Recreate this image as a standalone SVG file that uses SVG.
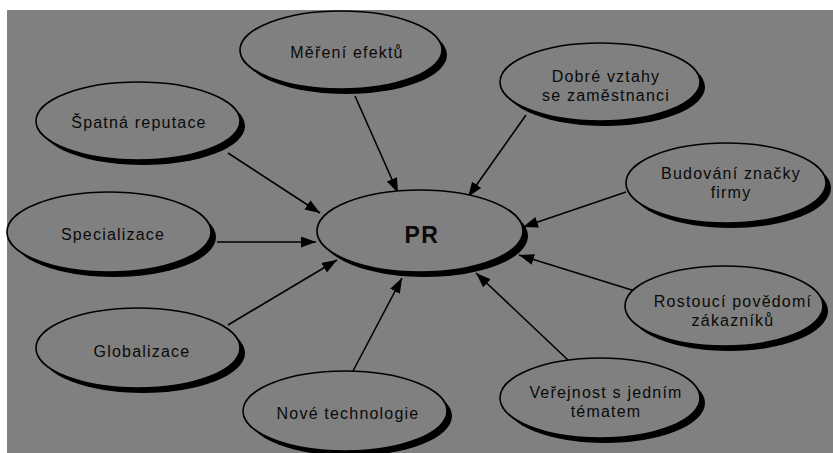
<svg xmlns="http://www.w3.org/2000/svg" width="833" height="453" viewBox="0 0 833 453">
<defs>
<marker id="ah" markerUnits="userSpaceOnUse" markerWidth="16" markerHeight="12" refX="15" refY="5.5" orient="auto">
<path d="M0,0 L15,5.5 L0,11 z" fill="#000"/>
</marker>
<style>
.sh{fill:#000}
.el{fill:#808080;stroke:#000;stroke-width:1.6}
.t{font-family:"Liberation Sans",Arial,sans-serif;font-size:16px;letter-spacing:1.2px;fill:#0a0a0a;text-anchor:middle}
.pr{font-family:"Liberation Sans",Arial,sans-serif;font-size:23px;font-weight:bold;letter-spacing:1.5px;fill:#0a0a0a;text-anchor:middle}
.cn line{stroke:#000;stroke-width:1.6;marker-end:url(#ah)}
</style>
</defs>
<rect x="0" y="0" width="833" height="453" fill="#fff"/>
<rect x="7" y="10" width="826" height="443" fill="#808080"/>

<g id="connectors" class="cn">
<line x1="355" y1="96" x2="398" y2="193"/>
<line x1="228" y1="153" x2="320" y2="213"/>
<line x1="217" y1="242" x2="316" y2="242"/>
<line x1="228" y1="325" x2="337" y2="260"/>
<line x1="353" y1="371" x2="402" y2="278"/>
<line x1="568" y1="360" x2="476" y2="273"/>
<line x1="635" y1="291" x2="519" y2="255"/>
<line x1="626" y1="192" x2="523" y2="227"/>
<line x1="526" y1="115" x2="468" y2="197"/>
</g>

<g id="node-pr">
<ellipse class="sh" cx="425" cy="236" rx="103" ry="41"/>
<ellipse class="el" cx="420" cy="231" rx="103" ry="41"/>
<text class="pr" x="422" y="243">PR</text>
</g>

<g id="node-mereni">
<ellipse class="sh" cx="346" cy="55" rx="101" ry="39"/>
<ellipse class="el" cx="341" cy="50" rx="101" ry="39"/>
<text class="t" x="347" y="58">Měření efektů</text>
</g>

<g id="node-spatna">
<ellipse class="sh" cx="143" cy="126" rx="102" ry="39"/>
<ellipse class="el" cx="138" cy="121" rx="102" ry="39"/>
<text class="t" x="139" y="128">Špatná reputace</text>
</g>

<g id="node-specializace">
<ellipse class="sh" cx="114" cy="237" rx="102" ry="40"/>
<ellipse class="el" cx="109" cy="232" rx="102" ry="40"/>
<text class="t" x="113" y="240">Specializace</text>
</g>

<g id="node-globalizace">
<ellipse class="sh" cx="143" cy="353" rx="102" ry="40"/>
<ellipse class="el" cx="138" cy="348" rx="102" ry="40"/>
<text class="t" x="142" y="357">Globalizace</text>
</g>

<g id="node-nove">
<ellipse class="sh" cx="350" cy="416" rx="102" ry="40"/>
<ellipse class="el" cx="345" cy="411" rx="102" ry="40"/>
<text class="t" x="348" y="419">Nové technologie</text>
</g>

<g id="node-verejnost">
<ellipse class="sh" cx="605" cy="403" rx="100" ry="40"/>
<ellipse class="el" cx="600" cy="398" rx="100" ry="40"/>
<text class="t" x="606" y="398">Veřejnost s jedním</text>
<text class="t" x="606" y="417">tématem</text>
</g>

<g id="node-rostouci">
<ellipse class="sh" cx="729" cy="311" rx="99" ry="40"/>
<ellipse class="el" cx="724" cy="306" rx="99" ry="40"/>
<text class="t" x="733" y="307">Rostoucí povědomí</text>
<text class="t" x="733" y="326">zákazníků</text>
</g>

<g id="node-budovani">
<ellipse class="sh" cx="731" cy="188" rx="100" ry="40"/>
<ellipse class="el" cx="726" cy="183" rx="100" ry="40"/>
<text class="t" x="731" y="179">Budování značky</text>
<text class="t" x="731" y="198">firmy</text>
</g>

<g id="node-dobre">
<ellipse class="sh" cx="605" cy="87" rx="100" ry="39"/>
<ellipse class="el" cx="600" cy="82" rx="100" ry="39"/>
<text class="t" x="606" y="82">Dobré vztahy</text>
<text class="t" x="606" y="101">se zaměstnanci</text>
</g>
</svg>
